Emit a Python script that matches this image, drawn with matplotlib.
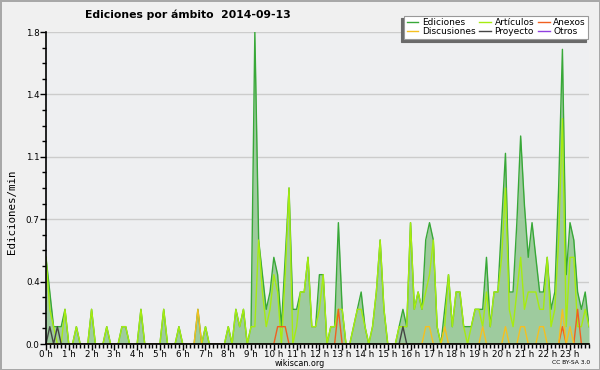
import numpy as np
import matplotlib
matplotlib.use("Agg")
import matplotlib.pyplot as plt
from matplotlib.ticker import MultipleLocator, FixedLocator

# edits per minute, 10-minute bins (6 per hour, 0h00 .. 23h50)
ediciones = [
    0.5, 0.3, 0.1, 0.1, 0.1, 0.2,   # 0 h
    0, 0, 0.1, 0, 0, 0,
    0.2, 0, 0, 0, 0.1, 0,
    0, 0, 0.1, 0.1, 0, 0,
    0, 0.2, 0, 0, 0, 0,
    0, 0.2, 0, 0, 0, 0.1,           # 5 h
    0, 0, 0, 0, 0.2, 0,
    0.1, 0, 0, 0, 0, 0,
    0.1, 0, 0.2, 0.1, 0.2, 0,
    0.1, 1.8, 0.6, 0.4, 0.2, 0.3,
    0.5, 0.4, 0.1, 0.5, 0.9, 0.2,   # 10 h
    0.2, 0.3, 0.3, 0.5, 0.1, 0.1,
    0.4, 0.4, 0, 0.1, 0.1, 0.7,
    0.2, 0, 0, 0.1, 0.2, 0.3,
    0.1, 0, 0.1, 0.3, 0.6, 0.2,
    0, 0, 0, 0.1, 0.2, 0.1,         # 15 h
    0.7, 0.2, 0.3, 0.2, 0.6, 0.7,
    0.6, 0.1, 0, 0.2, 0.4, 0.1,
    0.3, 0.3, 0.1, 0.1, 0.1, 0.2,
    0.2, 0.2, 0.5, 0.1, 0.3, 0.3,
    0.7, 1.1, 0.3, 0.3, 0.7, 1.2,   # 20 h
    0.8, 0.5, 0.7, 0.5, 0.3, 0.3,
    0.5, 0.2, 0.3, 0.9, 1.7, 0.4,
    0.7, 0.6, 0.3, 0.2, 0.3, 0.1,
]
articulos = [
    0.5, 0.2, 0.1, 0, 0, 0.2,
    0, 0, 0.1, 0, 0, 0,
    0.2, 0, 0, 0, 0.1, 0,
    0, 0, 0.1, 0.1, 0, 0,
    0, 0.2, 0, 0, 0, 0,
    0, 0.2, 0, 0, 0, 0.1,
    0, 0, 0, 0, 0, 0,
    0.1, 0, 0, 0, 0, 0,
    0.1, 0, 0.2, 0.1, 0.2, 0,
    0.1, 0.1, 0.6, 0.3, 0.1, 0.2,
    0.4, 0.3, 0, 0.4, 0.9, 0,
    0.1, 0.3, 0.3, 0.5, 0.1, 0.1,
    0.2, 0.4, 0, 0.1, 0.1, 0.2,
    0.2, 0, 0, 0.1, 0.2, 0.2,
    0.1, 0, 0.1, 0.3, 0.6, 0.2,
    0, 0, 0, 0.1, 0.1, 0.1,
    0.7, 0.2, 0.3, 0.2, 0.3, 0.4,
    0.6, 0.1, 0, 0.1, 0.4, 0.1,
    0.3, 0.3, 0.1, 0, 0.1, 0.2,
    0.2, 0.1, 0.3, 0.1, 0.3, 0.3,
    0.5, 0.9, 0.2, 0.1, 0.3, 0.5,
    0.2, 0.3, 0.3, 0.3, 0.2, 0.2,
    0.5, 0.1, 0.2, 0.6, 1.3, 0.1,
    0.5, 0.5, 0.1, 0.1, 0.2, 0.1,
]
# sparse series: bin index -> edits/min
discusiones_pts = {40: 0.2, 100: 0.1, 101: 0.1, 105: 0.1, 115: 0.1, 121: 0.1,
                   125: 0.1, 126: 0.1, 130: 0.1, 131: 0.1, 136: 0.2, 138: 0.1}
anexos_pts = {61: 0.1, 62: 0.1, 63: 0.1, 77: 0.2, 136: 0.1, 140: 0.2}
proyecto_pts = {1: 0.1, 3: 0.1, 94: 0.1}
otros_pts = {}

n = len(ediciones)
def sparse(d):
    a = np.zeros(n)
    for k, v in d.items():
        a[k] = v
    return a

discusiones = sparse(discusiones_pts)
anexos = sparse(anexos_pts)
proyecto = sparse(proyecto_pts)
otros = sparse(otros_pts)
hours = np.arange(n) / 6.0

fig = plt.figure(figsize=(6, 3.7), dpi=100)
fig.patch.set_facecolor('#f0f0f0')
fig.patch.set_edgecolor('#a8a8a8')
fig.patch.set_linewidth(2)
ax = fig.add_axes([46/600, 26/370, 543/600, 312/370])
ax.set_facecolor('#eeeff1')

ax.fill_between(hours, ediciones, color='#9ecb9e', lw=0, zorder=2)
ax.plot(hours, ediciones, color='#38a838', lw=1.0, zorder=3, label='Ediciones')
ax.plot(hours, articulos, color='#a6ec10', lw=1.0, zorder=4, label='Artículos')
ax.plot(hours, anexos, color='#f06020', lw=1.0, zorder=5, label='Anexos')
ax.plot(hours, discusiones, color='#f5c020', lw=1.0, zorder=5, label='Discusiones')
ax.plot(hours, proyecto, color='#444444', lw=1.0, zorder=6, label='Proyecto')
ax.plot(hours, otros, color='#9040e0', lw=1.0, zorder=1, label='Otros')

ax.set_xlim(0, hours[-1])
ax.set_ylim(0, 1.8)
ax.xaxis.set_major_locator(FixedLocator(range(24)))
ax.set_xticklabels([f'{h} h' for h in range(24)])
ax.xaxis.set_minor_locator(MultipleLocator(1/6))
yt = np.linspace(0, 1.8, 6)
ax.set_yticks(yt)
ax.set_yticklabels([f'{v:.1f}' for v in yt])
ax.yaxis.set_minor_locator(MultipleLocator(0.09))
ax.tick_params(axis='both', which='both', direction='out', length=4, width=1,
               labelsize=6.3, pad=0.5, colors='black')
ax.tick_params(axis='x', which='minor', length=3)
ax.tick_params(axis='y', which='minor', length=3)
ax.grid(axis='y', which='major', color='#cccccc', lw=1, zorder=0)
for s in ['top', 'right']:
    ax.spines[s].set_visible(False)
for s in ['left', 'bottom']:
    ax.spines[s].set_color('black')
    ax.spines[s].set_linewidth(1.2)
    ax.spines[s].set_zorder(10)

fig.text(0.313, 1 - 15/370, 'Ediciones por ámbito  2014-09-13', ha='center', va='center',
         fontsize=7.8, fontweight='bold')
fig.text(12/600, 1 - 212/370, 'Ediciones/min', rotation=90, ha='center', va='center',
         fontsize=7.8, family='DejaVu Sans Mono')
fig.text(300/600, 1 - 363/370, 'wikiscan.org', ha='center', va='center', fontsize=5.8)
fig.text(590/600, 1 - 363/370, 'CC BY-SA 3.0', ha='right', va='center', fontsize=4.3)

h, l = ax.get_legend_handles_labels()
order = [0, 3, 1, 4, 2, 5]
leg = fig.legend([h[i] for i in order], [l[i] for i in order], ncol=3,
                 loc='upper right', bbox_to_anchor=(593/600, 1 - 11/370),
                 fontsize=6.5, handlelength=1.3, handletextpad=0.4, columnspacing=0.4,
                 labelspacing=0.0, borderpad=0.3, frameon=True, fancybox=False,
                 shadow={'ox': -2, 'oy': -2, 'color': '#6a6a6a', 'alpha': 1})
leg.get_frame().set_edgecolor('#999999')
leg.get_frame().set_linewidth(0.8)

fig.savefig('out.png', dpi=100, facecolor=fig.get_facecolor(), edgecolor=fig.get_edgecolor())
